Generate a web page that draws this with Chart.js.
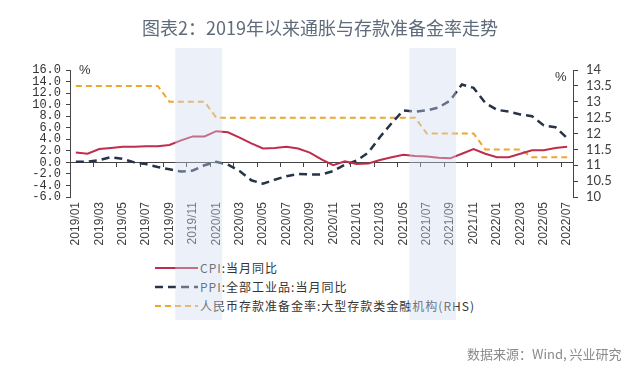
<!DOCTYPE html>
<html>
<head>
<meta charset="utf-8">
<script src="https://cdn.jsdelivr.net/npm/chart.js@4.4.1/dist/chart.umd.min.js"></script>
<style>
html,body{margin:0;padding:0;background:#fff;}
#wrap{position:relative;width:640px;height:383px;overflow:hidden;font-family:"Noto Sans CJK SC","Noto Sans",sans-serif;}
#title{position:absolute;left:0;top:13px;width:640px;text-align:center;font-size:18px;color:#5f6b7b;line-height:28px;z-index:2;}
#legend{position:absolute;left:155px;top:258px;z-index:0;}
.li{display:flex;align-items:center;height:19px;font-size:12px;color:#333;letter-spacing:1px;white-space:nowrap;}
.li svg{margin-right:2px;display:block;}
#cv{position:absolute;left:0;top:0;z-index:1;}
.pct{position:absolute;z-index:2;font:13px "Liberation Sans",sans-serif;color:#333;line-height:16px;}
#src{position:absolute;left:467px;top:345px;font-size:13px;color:#8a8a8a;z-index:2;line-height:18px;}
</style>
</head>
<body>
<div id="wrap">
  <div id="title">图表2：2019年以来通胀与存款准备金率走势</div>
  <div id="legend"></div>
  <canvas id="cv" width="640" height="383"></canvas>
  <div class="pct" style="left:79px;top:62px;">%</div>
  <div class="pct" style="left:555px;top:69px;">%</div>
  <div id="src">数据来源：Wind, 兴业研究</div>
</div>
<script>
const categories = ['2019/01','2019/02','2019/03','2019/04','2019/05','2019/06','2019/07','2019/08','2019/09','2019/10','2019/11','2019/12',
  '2020/01','2020/02','2020/03','2020/04','2020/05','2020/06','2020/07','2020/08','2020/09','2020/10','2020/11','2020/12',
  '2021/01','2021/02','2021/03','2021/04','2021/05','2021/06','2021/07','2021/08','2021/09','2021/10','2021/11','2021/12',
  '2022/01','2022/02','2022/03','2022/04','2022/05','2022/06','2022/07'];

const cpi = [1.7,1.5,2.3,2.5,2.7,2.7,2.8,2.8,3.0,3.8,4.5,4.5,
  5.4,5.2,4.3,3.3,2.4,2.5,2.7,2.4,1.7,0.5,-0.5,0.2,
  -0.3,-0.2,0.4,0.9,1.3,1.1,1.0,0.8,0.7,1.5,2.3,1.5,
  0.9,0.9,1.5,2.1,2.1,2.5,2.7];

const ppi = [0.1,0.1,0.4,0.9,0.6,0.0,-0.3,-0.8,-1.2,-1.6,-1.4,-0.5,
  0.1,-0.4,-1.5,-3.1,-3.7,-3.0,-2.4,-2.0,-2.1,-2.1,-1.5,-0.4,
  0.3,1.7,4.4,6.8,9.0,8.8,9.0,9.5,10.7,13.5,12.9,10.3,
  9.1,8.8,8.3,8.0,6.4,6.1,4.2];

const rrr = [13.5,13.5,13.5,13.5,13.5,13.5,13.5,13.5,13.0,13.0,13.0,13.0,
  12.5,12.5,12.5,12.5,12.5,12.5,12.5,12.5,12.5,12.5,12.5,12.5,
  12.5,12.5,12.5,12.5,12.5,12.5,12.0,12.0,12.0,12.0,12.0,11.5,
  11.5,11.5,11.5,11.25,11.25,11.25,11.25];

const seriesNames = ['CPI:当月同比','PPI:全部工业品:当月同比','人民币存款准备金率:大型存款类金融机构(RHS)'];

const leftTicks = {min:-6, max:16, step:2};
const rightTicks = {min:10, max:14, step:0.5};

// shaded periods (first and last category of each band)
const bands = [['2019/10','2020/01'],['2021/06','2021/09']];

const bandPlugin = {
  id:'bands',
  afterDraw(chart){
    const xs = chart.scales.x;
    const ctx = chart.ctx;
    const w = xs.width / categories.length;
    ctx.save();
    ctx.fillStyle = 'rgba(205,218,238,0.38)';
    bands.forEach(([a,b])=>{
      const x1 = xs.getPixelForValue(categories.indexOf(a)) - w/2;
      const x2 = xs.getPixelForValue(categories.indexOf(b)) + w/2;
      ctx.fillRect(x1, 48, x2-x1, 272);
    });
    ctx.restore();
  }
};

const chart = new Chart(document.getElementById('cv'), {
  type:'line',
  data:{
    labels:categories,
    datasets:[
      {label:seriesNames[0], data:cpi, yAxisID:'y', borderColor:'#bf2d4b', backgroundColor:'#bf2d4b', borderWidth:2, pointRadius:0, tension:0},
      {label:seriesNames[1], data:ppi, yAxisID:'y', borderColor:'#263348', backgroundColor:'#263348', borderWidth:2.5, borderDash:[8,5], pointRadius:0, tension:0},
      {label:seriesNames[2], data:rrr, yAxisID:'y1', borderColor:'#f0a52c', backgroundColor:'#f0a52c', borderWidth:2, borderDash:[6,4], pointRadius:0, tension:0}
    ]
  },
  options:{
    responsive:false,
    animation:false,
    layout:{padding:{top:70,left:0,right:0,bottom:0}},
    plugins:{legend:{display:false}, tooltip:{enabled:false}, title:{display:false}},
    scales:{
      x:{
        type:'category', position:'bottom', offset:true,
        grid:{display:false, drawTicks:false, tickLength:0},
        border:{display:false},
        ticks:{autoSkip:false, minRotation:90, maxRotation:90, padding:5, color:'#404040',
          font:{family:'"Liberation Sans", Arial, sans-serif', size:12},
          callback:(v,i)=> i%2===0 ? categories[i] : ''},
        afterFit:(s)=>{ s.height = 383-197; }
      },
      x0:{
        type:'category', axis:'x', position:{y:0}, offset:true,
        grid:{display:true, drawOnChartArea:false, drawTicks:true, tickLength:4, offset:true,
          tickColor:(c)=> c.index%2===0 ? '#444' : 'rgba(0,0,0,0)'},
        border:{display:true, color:'#444', width:1},
        ticks:{display:false}
      },
      y:{
        position:'left', min:leftTicks.min, max:leftTicks.max,
        grid:{drawOnChartArea:false, drawTicks:true, tickLength:4, color:'#444'},
        border:{display:true, color:'#444', width:1},
        ticks:{stepSize:leftTicks.step, autoSkip:false, padding:5, color:'#333',
          font:{family:'"Liberation Mono", monospace', size:12},
          callback:(v)=> Number(v).toFixed(1)},
        afterFit:(s)=>{ s.width = 70; }
      },
      y1:{
        position:'right', min:rightTicks.min, max:rightTicks.max,
        grid:{drawOnChartArea:false, drawTicks:true, tickLength:5, color:'#444'},
        border:{display:true, color:'#444', width:1},
        ticks:{stepSize:rightTicks.step, autoSkip:false, padding:8, color:'#404040',
          font:{family:'Lato, sans-serif', size:13},
          callback:(v)=> String(Number(v))},
        afterFit:(s)=>{ s.width = 67; }
      }
    }
  },
  plugins:[bandPlugin]
});

// HTML legend built from the chart's datasets
const lg = document.getElementById('legend');
chart.data.datasets.forEach(ds=>{
  const row = document.createElement('div');
  row.className = 'li';
  const dash = ds.borderDash ? ds.borderDash.join(',') : 'none';
  row.innerHTML = '<svg width="43" height="6"><line x1="0" y1="3" x2="43" y2="3" stroke="'+ds.borderColor+'" stroke-width="'+ds.borderWidth+'" stroke-dasharray="'+dash+'"/></svg>';
  const t = document.createElement('span');
  t.textContent = ds.label;
  row.appendChild(t);
  lg.appendChild(row);
});
</script>
</body>
</html>
